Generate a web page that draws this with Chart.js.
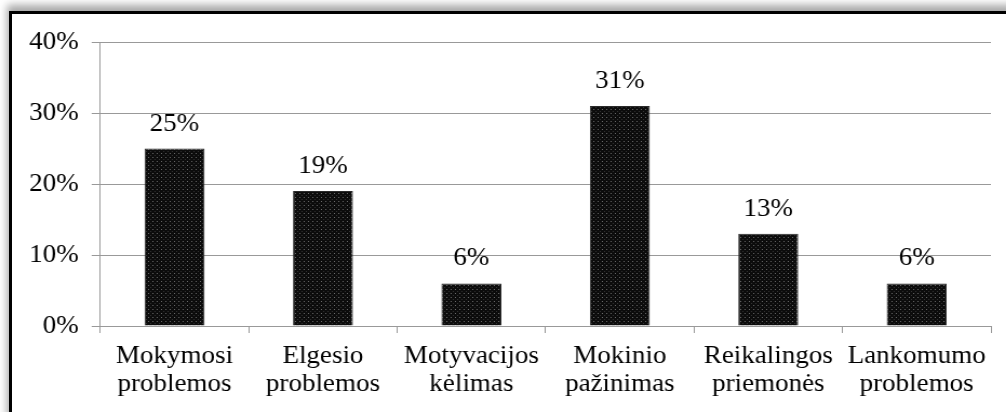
<!DOCTYPE html>
<html>
<head>
<meta charset="utf-8">
<script src="https://cdn.jsdelivr.net/npm/chart.js@4/dist/chart.umd.min.js"></script>
<style>
  html, body { margin: 0; padding: 0; background: #fff; overflow: hidden; }
  #frame {
    position: absolute; left: 9px; top: 11px; width: 1010px; height: 410px;
    border: 3px solid #000; box-shadow: -2px -6px 8px rgba(0,0,0,0.35);
  }
  /* the reference text is a little wide, so the chart is drawn narrower and stretched */
  #wrap {
    position: absolute; left: 0; top: 0; width: 931px; height: 412px;
    transform: scaleX(1.0806); transform-origin: 0 0;
  }
</style>
</head>
<body>
<div id="frame"></div>
<div id="wrap"><canvas id="chart"></canvas></div>
<script>
// values
const categories = [
    ['Mokymosi', 'problemos'],
    ['Elgesio', 'problemos'],
    ['Motyvacijos', 'kėlimas'],
    ['Mokinio', 'pažinimas'],
    ['Reikalingos', 'priemonės'],
    ['Lankomumo', 'problemos']
];
const shares = [25, 19, 6, 31, 13, 6];
const yTicks = [0, 10, 20, 30, 40];

const font = { family: '"Liberation Serif", "Times New Roman", serif', size: 25, lineHeight: 1.12 };

// dark dotted fill for the bars
function dotPattern() {
    const c = document.createElement('canvas');
    c.width = 4; c.height = 4;
    const g = c.getContext('2d');
    g.fillStyle = '#0c0c0c';
    g.fillRect(0, 0, 4, 4);
    g.fillStyle = '#6a6a6a';
    g.fillRect(1, 1, 1, 1);
    g.fillStyle = '#333';
    g.fillRect(3, 3, 1, 1);
    return g.createPattern(c, 'repeat');
}

const valueLabels = {
    id: 'valueLabels',
    afterDatasetsDraw(chart) {
        const ctx = chart.ctx;
        const meta = chart.getDatasetMeta(0);
        ctx.save();
        ctx.font = font.size + 'px ' + font.family;
        ctx.fillStyle = '#000';
        ctx.textAlign = 'center';
        ctx.textBaseline = 'alphabetic';
        meta.data.forEach((bar, i) => {
            ctx.fillText(shares[i] + '%', bar.x, bar.y - 18);
        });
        ctx.restore();
    }
};

new Chart(document.getElementById('chart'), {
    type: 'bar',
    data: {
        labels: categories,
        datasets: [{
            data: shares,
            backgroundColor: dotPattern(),
            borderColor: '#2a2a2a',
            borderWidth: 1,
            categoryPercentage: 0.8,
            barPercentage: 0.505
        }]
    },
    options: {
        responsive: true,
        maintainAspectRatio: false,
        animation: false,
        layout: { padding: { top: 42, right: 14, bottom: 5, left: 15 } },
        plugins: { legend: { display: false }, tooltip: { enabled: false } },
        scales: {
            x: {
                offset: true,
                grid: { offset: true, drawOnChartArea: false, drawTicks: true, tickLength: 7, color: '#999' },
                border: { color: '#999' },
                ticks: { color: '#000', font: font, maxRotation: 0, padding: 9 }
            },
            y: {
                min: 0, max: 40,
                afterBuildTicks(axis) { axis.ticks = yTicks.map(v => ({ value: v })); },
                grid: { color: '#999', tickLength: 8 },
                border: { color: '#999' },
                ticks: { color: '#000', font: font, padding: 12, callback: v => v + '%' }
            }
        }
    },
    plugins: [valueLabels]
});
</script>
</body>
</html>
